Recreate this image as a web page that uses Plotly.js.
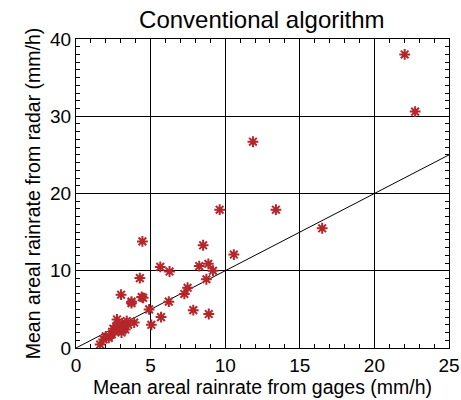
<!DOCTYPE html>
<html>
<head>
<meta charset="utf-8">
<script src="https://cdn.plot.ly/plotly-3.0.1.min.js"></script>
<style>html,body{margin:0;padding:0;background:#fff;}#chart{width:461px;height:400px;}</style>
</head>
<body>
<div id="chart"></div>
<script>
const gageRain = [1.62, 1.85, 2.0, 2.2, 2.4, 2.5, 2.6, 2.7, 2.75, 2.85, 2.9, 3.05, 3.1, 3.2, 3.3, 3.4, 3.5, 3.9,
  3.02, 3.72, 3.72, 4.28, 4.4, 4.5, 4.45, 4.9, 5.05, 5.7, 5.65, 6.22, 6.27, 7.26, 7.48, 7.86,
  8.26, 8.52, 8.74, 8.87, 8.9, 9.18, 9.63, 10.58, 11.86, 13.4, 16.5, 22.03, 22.73];
const radarRain = [0.45, 1.1, 1.5, 1.3, 1.75, 2.5, 2.2, 2.8, 3.7, 3.0, 2.6, 2.0, 3.2, 2.8, 2.4, 3.5, 3.0, 3.3,
  6.9, 5.8, 6.0, 9.05, 6.6, 6.5, 13.8, 5.0, 3.0, 4.0, 10.5, 6.0, 9.9, 7.0, 7.8, 4.9,
  10.6, 13.3, 8.9, 10.9, 4.4, 10.0, 17.9, 12.1, 26.7, 17.9, 15.5, 38.0, 30.6];
const oneToOneX = [0, 25];
const oneToOneY = [0, 25];
const xTicks = [0, 5, 10, 15, 20, 25];
const yTicks = [0, 10, 20, 30, 40];

const font = 'Liberation Sans, Arial, Helvetica, sans-serif';
const data = [
  {x: oneToOneX, y: oneToOneY, mode: 'lines', line: {color: '#000', width: 1}, hoverinfo: 'skip'},
  {x: gageRain, y: radarRain, mode: 'markers',
   marker: {symbol: 'asterisk-open', size: 9, color: '#b5262a', line: {color: '#b5262a', width: 2}}}
];
const axisBase = {
  showline: true, linecolor: '#000', linewidth: 1, mirror: 'ticks',
  ticks: 'inside', ticklen: 7, tickcolor: '#000', tickwidth: 1,
  showgrid: true, gridcolor: '#000', gridwidth: 1, zeroline: false,
  ticklabeloverflow: 'allow',
  tickfont: {family: font, size: 19, color: '#000'}
};
const layout = {
  width: 461, height: 400,
  margin: {l: 75.5, r: 12, t: 38.5, b: 51.5},
  paper_bgcolor: '#fff', plot_bgcolor: '#fff',
  showlegend: false,
  title: {text: 'Conventional algorithm', font: {family: font, size: 24, color: '#000'},
          x: 0.568, xanchor: 'center', y: 0.95, yanchor: 'middle'},
  xaxis: Object.assign({}, axisBase, {
    range: [0, 25], tickvals: xTicks, ticktext: xTicks.map(String),
    minor: {dtick: 1, ticks: 'inside', ticklen: 4, tickcolor: '#000', showgrid: false},
    title: {text: 'Mean areal rainrate from gages (mm/h)', font: {family: font, size: 19.5, color: '#000'}, standoff: 2}
  }),
  yaxis: Object.assign({}, axisBase, {
    range: [0, 40], tickvals: yTicks, ticktext: yTicks.map(String),
    minor: {dtick: 1, ticks: 'inside', ticklen: 4, tickcolor: '#000', showgrid: false},
    title: {text: 'Mean areal rainrate from radar (mm/h)', font: {family: font, size: 19.5, color: '#000'}, standoff: 4}
  })
};
Plotly.newPlot('chart', data, layout, {displayModeBar: false, staticPlot: true});
</script>
</body>
</html>
